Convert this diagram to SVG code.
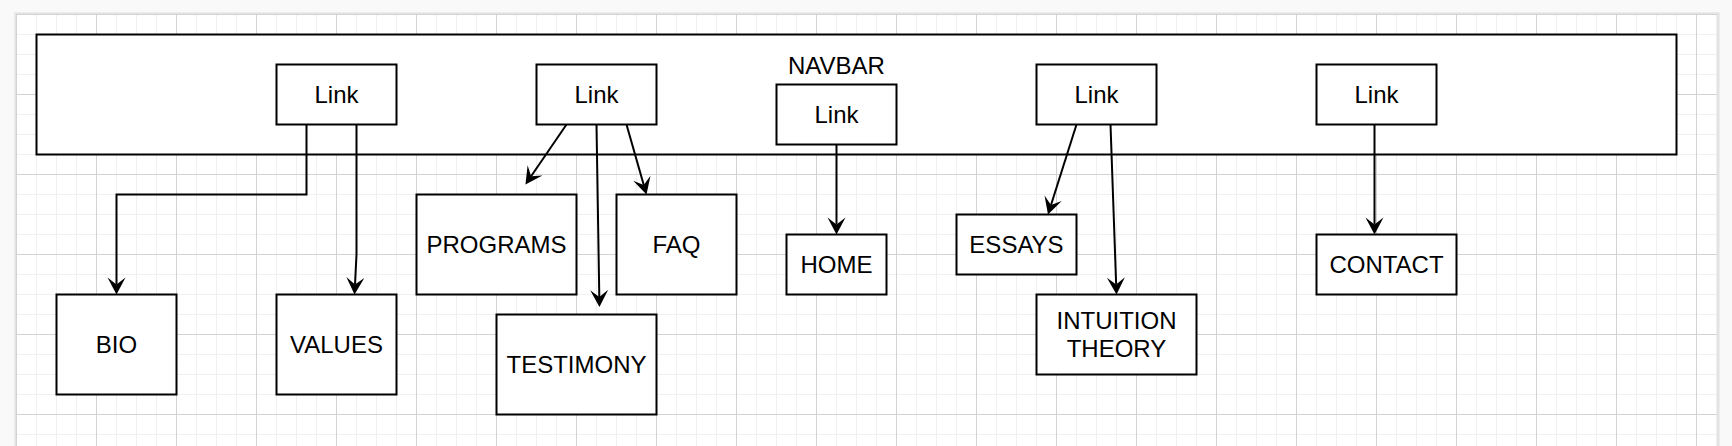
<svg xmlns="http://www.w3.org/2000/svg" width="1732" height="446" viewBox="0 0 1732 446">
<style>
.box{fill:#fff;stroke:#000;stroke-width:2}
.lbl{font-family:"Liberation Sans",Arial,Helvetica,sans-serif;font-size:24px;fill:#000;text-anchor:middle}
.edge{fill:none;stroke:#000;stroke-width:2;marker-end:url(#arr)}
</style>
<defs>
<pattern id="grid" x="16" y="14" width="80" height="80" patternUnits="userSpaceOnUse">
<rect x="20" y="0" width="1" height="80" fill="#f0f0f0"/>
<rect x="40" y="0" width="1" height="80" fill="#f0f0f0"/>
<rect x="60" y="0" width="1" height="80" fill="#f0f0f0"/>
<rect x="0" y="20" width="80" height="1" fill="#f0f0f0"/>
<rect x="0" y="40" width="80" height="1" fill="#f0f0f0"/>
<rect x="0" y="60" width="80" height="1" fill="#f0f0f0"/>
<rect x="0" y="0" width="1" height="80" fill="#d3d3d3"/>
<rect x="0" y="0" width="80" height="1" fill="#d3d3d3"/>
</pattern>
<marker id="arr" viewBox="-18 -10 20 20" markerWidth="20" markerHeight="20" refX="-10" refY="0" orient="auto" markerUnits="userSpaceOnUse">
<path d="M0,0 L-17,-9 L-10,0 L-17,9 Z" fill="#000"/>
</marker>
</defs>
<rect x="0" y="0" width="1732" height="446" fill="#f9f9f9"/>
<rect x="14" y="12" width="1706" height="440" fill="#ececec"/>
<rect x="15" y="13" width="1704" height="440" fill="#e3e3e3"/>
<rect x="16" y="14" width="1701" height="440" fill="#fff"/>
<rect x="16" y="14" width="1701" height="440" fill="url(#grid)"/>

<g id="navbar">
<rect class="box" x="36.5" y="34.5" width="1640" height="120"/>
<text class="lbl" x="836.5" y="73.5">NAVBAR</text>
</g>
<g id="link1"><rect class="box" x="276.5" y="64.5" width="120" height="60"/><text class="lbl" x="336.5" y="103">Link</text></g>
<g id="link2"><rect class="box" x="536.5" y="64.5" width="120" height="60"/><text class="lbl" x="596.5" y="103">Link</text></g>
<g id="link3"><rect class="box" x="776.5" y="84.5" width="120" height="60"/><text class="lbl" x="836.5" y="123">Link</text></g>
<g id="link4"><rect class="box" x="1036.5" y="64.5" width="120" height="60"/><text class="lbl" x="1096.5" y="103">Link</text></g>
<g id="link5"><rect class="box" x="1316.5" y="64.5" width="120" height="60"/><text class="lbl" x="1376.5" y="103">Link</text></g>

<g id="bio"><rect class="box" x="56.5" y="294.5" width="120" height="100"/><text class="lbl" x="116.5" y="353">BIO</text></g>
<g id="values"><rect class="box" x="276.5" y="294.5" width="120" height="100"/><text class="lbl" x="336.5" y="353">VALUES</text></g>
<g id="programs"><rect class="box" x="416.5" y="194.5" width="160" height="100"/><text class="lbl" x="496.5" y="253">PROGRAMS</text></g>
<g id="testimony"><rect class="box" x="496.5" y="314.5" width="160" height="100"/><text class="lbl" x="576.5" y="373">TESTIMONY</text></g>
<g id="faq"><rect class="box" x="616.5" y="194.5" width="120" height="100"/><text class="lbl" x="676.5" y="253">FAQ</text></g>
<g id="home"><rect class="box" x="786.5" y="234.5" width="100" height="60"/><text class="lbl" x="836.5" y="273">HOME</text></g>
<g id="essays"><rect class="box" x="956.5" y="214.5" width="120" height="60"/><text class="lbl" x="1016.5" y="253">ESSAYS</text></g>
<g id="intuition"><rect class="box" x="1036.5" y="294.5" width="160" height="80"/><text class="lbl" x="1116.5" y="328.5">INTUITION</text><text class="lbl" x="1116.5" y="357.3">THEORY</text></g>
<g id="contact"><rect class="box" x="1316.5" y="234.5" width="140" height="60"/><text class="lbl" x="1386.5" y="273">CONTACT</text></g>

<g id="connectors">
<path class="edge" d="M306.5 124.5 V194.5 H116.5 V284.5"/>
<path class="edge" d="M356.5 124.5 V254.5 L355 284.5"/>
<path class="edge" d="M566.5 124.5 L531.1 176.2"/>
<path class="edge" d="M596.5 124.5 L599.3 297"/>
<path class="edge" d="M626.5 124.5 L643.75 184.9"/>
<path class="edge" d="M836.5 144.5 V224.5"/>
<path class="edge" d="M1076.5 124.5 L1051 205"/>
<path class="edge" d="M1110.5 124.5 L1116.15 284.5"/>
<path class="edge" d="M1374.5 124.5 V224.5"/>
</g>
</svg>
